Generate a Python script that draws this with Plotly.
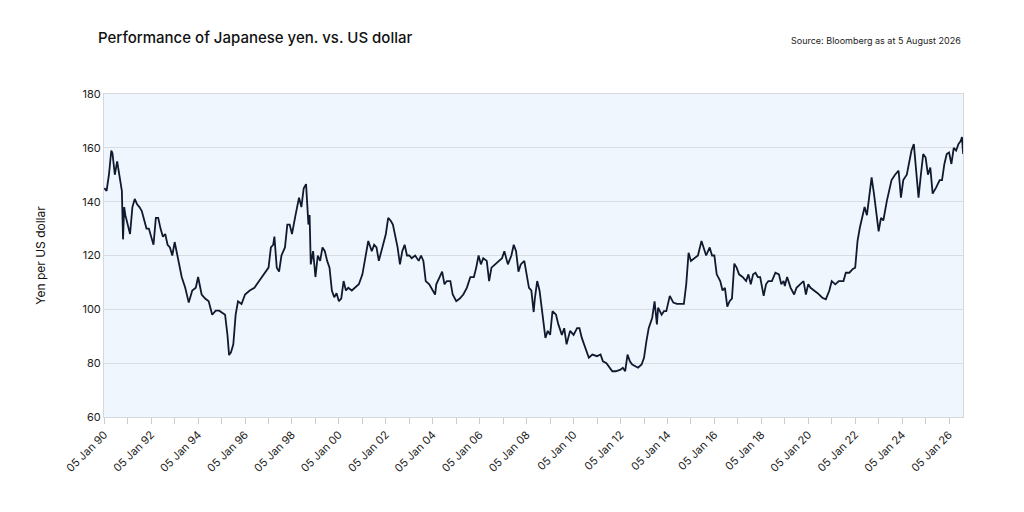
import pandas as pd
import plotly.graph_objects as go

years = [1990.0,1990.1,1990.2,1990.3,1990.35,1990.45,1990.55,1990.65,1990.75,1990.8,1990.85,1990.9,1991.0,1991.1,1991.2,1991.3,1991.4,1991.5,1991.6,1991.7,1991.8,1991.9,
 1992.0,1992.1,1992.2,1992.3,1992.4,1992.5,1992.6,1992.7,1992.8,1992.9,1993.0,1993.15,1993.3,1993.45,1993.6,1993.75,1993.9,
 1994.0,1994.15,1994.3,1994.45,1994.6,1994.75,1994.9,1995.0,1995.15,1995.25,1995.32,1995.4,1995.5,1995.6,1995.7,1995.85,
 1996.0,1996.2,1996.4,1996.6,1996.8,1997.0,1997.1,1997.2,1997.25,1997.35,1997.45,1997.55,1997.7,1997.8,1997.9,
 1998.0,1998.15,1998.3,1998.4,1998.5,1998.6,1998.7,1998.75,1998.8,1998.9,1999.0,1999.1,1999.2,1999.3,1999.4,1999.5,1999.6,1999.7,1999.8,1999.9,
 2000.0,2000.1,2000.2,2000.3,2000.4,2000.55,2000.7,2000.85,2001.0,2001.1,2001.25,2001.4,2001.5,2001.6,2001.7,2001.85,
 2002.0,2002.1,2002.2,2002.3,2002.4,2002.5,2002.6,2002.7,2002.8,2002.9,2003.0,2003.1,2003.25,2003.4,2003.5,2003.6,2003.7,2003.85,
 2004.0,2004.1,2004.15,2004.3,2004.4,2004.5,2004.6,2004.75,2004.85,2005.0,2005.15,2005.3,2005.45,2005.6,2005.75,2005.85,2005.95,
 2006.05,2006.15,2006.3,2006.4,2006.5,2006.65,2006.8,2006.95,2007.05,2007.2,2007.35,2007.45,2007.55,2007.65,2007.75,2007.9,
 2008.0,2008.1,2008.2,2008.3,2008.35,2008.45,2008.55,2008.7,2008.8,2008.9,2009.0,2009.1,2009.25,2009.35,2009.5,2009.6,2009.7,2009.85,
 2010.0,2010.15,2010.25,2010.35,2010.5,2010.65,2010.8,2011.0,2011.15,2011.25,2011.4,2011.55,2011.65,2011.8,
 2012.0,2012.1,2012.2,2012.3,2012.4,2012.5,2012.6,2012.75,2012.9,2013.0,2013.1,2013.2,2013.35,2013.45,2013.55,2013.6,2013.75,2013.85,2013.95,
 2014.1,2014.25,2014.4,2014.55,2014.7,2014.8,2014.9,2015.0,2015.15,2015.3,2015.45,2015.55,2015.65,2015.8,2015.9,
 2016.0,2016.1,2016.25,2016.35,2016.45,2016.55,2016.65,2016.75,2016.85,2016.95,2017.05,2017.2,2017.35,2017.45,2017.55,2017.65,2017.75,2017.85,2017.95,
 2018.1,2018.2,2018.3,2018.45,2018.6,2018.75,2018.85,2018.95,2019.0,2019.1,2019.25,2019.4,2019.5,2019.65,2019.8,2019.9,
 2020.0,2020.1,2020.25,2020.4,2020.6,2020.75,2020.9,2021.0,2021.15,2021.3,2021.5,2021.6,2021.75,2021.9,
 2022.0,2022.1,2022.2,2022.3,2022.4,2022.5,2022.6,2022.7,2022.8,2022.9,2023.0,2023.1,2023.2,2023.35,2023.45,2023.55,2023.7,2023.85,2023.95,
 2024.05,2024.2,2024.3,2024.4,2024.5,2024.55,2024.65,2024.7,2024.8,2024.9,2025.0,2025.1,2025.2,2025.3,2025.45,2025.6,2025.7,2025.8,2025.9,
 2026.0,2026.1,2026.2,2026.3,2026.4,2026.5,2026.55,2026.6]
yen = [145,144,150,159,158,150,155,149,144,126,138,135,132,128,138,141,139,138,136.5,133,130,130,
 127,124,134,134,130,127,128,124,123,120,125,118.6,112,108,102.5,107,108,
 112,105.5,104,103,98,99.5,99.5,99,98,90.5,83,84,87,98,103,102,
 105.5,107,108,110.5,113,115.5,123,124,127,115.5,114,120,123,131.5,131.5,
 128,135,141.5,138,145,146.5,131.5,135,116.7,121.6,112,120,118,123,121.6,118,115.5,107,104.5,106,
 103,104,110.5,107,108,107,108,109.3,113,118,125.4,121.6,124,123,118,123,
 128,134,133,131.5,127,123,116.7,121.6,124,120,120,119,120,118,120,118,110.5,109.3,
 107,105.5,109.3,112,114,109.3,110.5,110.5,105.5,103,104,105.5,108,112,112,115.5,120,
 116.7,119,118,110.5,115.5,116.7,118,119,121.6,116.7,120,124,121.6,114,116.7,118,
 113,108,107,99,104,110.5,107,95.6,89.4,92,90.5,99.3,98,94.4,90.5,93,87,92,
 90.5,93,93,89.4,85.7,82,83.2,82.6,83.2,80.7,80,78.3,77,77,
 77.6,78.3,77,83.2,80.7,79.5,79,78.3,79.5,82,88,93,96.9,103,94.4,100.6,98,99.3,99.3,
 105,102.5,102,102,102,109.3,121,118,119,120,125.4,123,120,123,120,
 120,113,110.5,107,108,101,103,104,117,115.5,113,112,110.5,113,109.3,113,113.6,112,112,
 105,109.3,110.5,110.5,113.6,113,109.3,110.5,108.7,112,108,105.5,108,109.3,110.5,105.5,
 109.3,108,107,106,104.3,103.7,107,110.5,109.3,110.5,110.5,113.6,113.6,115,
 115.5,125.4,130.4,134,138,135,143,149,143,135,129,134,133,140.3,144,148,150,151.5,141.5,
 148,150,155,159,161.4,156.4,145.3,141.5,150,157.7,156.4,150,152.7,143,145.3,148,148,154,157.7,
 158.3,154,160,159,161.4,162.6,164,157.7]

tick_years = list(range(1990, 2027, 2))
tick_labels = ["05 Jan %02d" % (y % 100) for y in tick_years]

def to_date(y):
    yr = int(y)
    start = pd.Timestamp(year=yr, month=1, day=5)
    return start + pd.Timedelta(days=(y - yr) * 365.25)

dates = [to_date(y) for y in years]
tick_dates = [pd.Timestamp(year=y, month=1, day=5) for y in tick_years]

fig = go.Figure(go.Scatter(x=dates, y=yen, mode="lines",
                           line=dict(color="#101a2e", width=1.8), hoverinfo="skip"))

fig.update_layout(
    width=1024, height=512,
    margin=dict(l=96, r=69, t=86, b=103, autoexpand=False),
    paper_bgcolor="white", plot_bgcolor="#f0f6fd",
    font=dict(family="Inter, Noto Sans, sans-serif", color="#1a1a1a"),
    showlegend=False,
    annotations=[
        dict(text="Performance of Japanese yen. vs. US dollar", xref="paper", yref="paper",
             x=0, y=1.0, xshift=-8, yshift=57, xanchor="left", yanchor="middle", showarrow=False,
             font=dict(size=15, color="#111111", weight=500)),
        dict(text="Source: Bloomberg as at 5 August 2026", xref="paper", yref="paper",
             x=1.0, y=1.0, yshift=54, xanchor="right", yanchor="middle", showarrow=False,
             font=dict(size=9, color="#222222")),
    ],
)
fig.update_xaxes(
    range=[pd.Timestamp("1990-01-01"), pd.Timestamp("2026-08-10")],
    tickvals=tick_dates, ticktext=tick_labels, tickangle=-45,
    ticks="outside", ticklen=6, tickcolor="#cccccc", tickfont=dict(size=11, color="#222"),
    minor=dict(dtick="M12", tick0="1990-01-05", ticks="outside", ticklen=6, tickcolor="#cccccc"),
    showgrid=False, showline=True, linecolor="#d5d9de", mirror=True, zeroline=False,
)
fig.update_yaxes(
    range=[60, 180], dtick=20, tickfont=dict(size=11, color="#222"),
    showgrid=True, gridcolor="#d9dde2", gridwidth=1, zeroline=False,
    showline=True, linecolor="#d5d9de", mirror=True,
    title=dict(text="Yen per US dollar", font=dict(size=12, color="#111"), standoff=34),
)
fig.write_html("out.html")
